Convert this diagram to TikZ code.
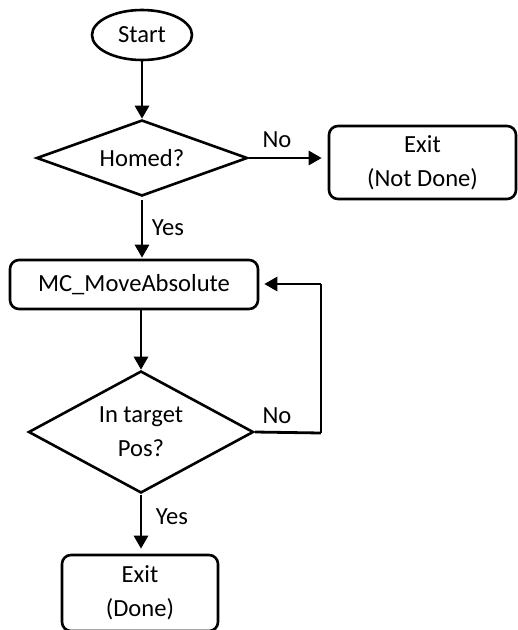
\documentclass[tikz,border=0pt]{standalone}
\usepackage{fontspec}
\setmainfont{Carlito}
\usetikzlibrary{shapes.geometric,arrows.meta}
\begin{document}
\begin{tikzpicture}[x=1pt,y=-1pt,
  every node/.style={font=\fontsize{24.6}{34}\selectfont, inner sep=0pt},
  flow/.style={line width=2.8pt, -{Triangle[length=13pt,width=14pt]}},
  plain/.style={line width=2.8pt},
  thinline/.style={line width=1.2pt},
  terminal/.style={draw, line width=2.6pt, ellipse},
  process/.style={draw, line width=2.6pt, rounded corners=9pt, align=center},
  decision/.style={draw, line width=2.6pt, diamond, align=center},
  lbl/.style={}]
  \useasboundingbox (0,0) rectangle (518,630);

  % nodes
  \node[terminal, minimum width=100pt, minimum height=50pt] (start) at (142,35) {Start};
  \node[decision, minimum width=211pt, minimum height=76pt, shape aspect=2.78] (homed) at (142,158) {Homed?};
  \node[process, minimum width=187pt, minimum height=73pt] (notdone) at (422.5,162.5) {Exit\\(Not Done)};
  \node[process, minimum width=248pt, minimum height=49pt] (move) at (134,284.5) {MC\_MoveAbsolute};
  \node[decision, minimum width=225pt, minimum height=122pt, shape aspect=1.84] (inpos) at (141,432) {In target\\Pos?};
  \node[process, minimum width=156pt, minimum height=76pt] (done) at (140,593) {Exit\\(Done)};

  % loop-back corners
  \coordinate (c1) at (321,433);
  \coordinate (c2) at (321,284);

  % connectors
  \draw[flow] (start.south) -- (start.south |- homed.north);
  \draw[flow, shorten >=6pt] (homed.east) -- (homed.east -| notdone.west);
  \draw[flow, shorten >=1pt] ([yshift=-3pt]homed.south) -- (homed.south |- move.north);
  \draw[flow] (move.south -| inpos.north) -- (inpos.north);
  \draw[flow, shorten >=5pt] ([yshift=-1pt]inpos.south) -- (inpos.south |- done.north);
  \draw[plain] (inpos.east) -- (c1);
  \draw[thinline] (c1) -- (c2);
  \draw[flow, shorten >=5pt] (c2) -- (move.east |- c2);

  % branch labels
  \node[lbl] (no1) at (277,140) {No};
  \node[lbl] (yes1) at (168,228) {Yes};
  \node[lbl] (no2) at (277,416) {No};
  \node[lbl] (yes2) at (172,517) {Yes};
\end{tikzpicture}
\end{document}
